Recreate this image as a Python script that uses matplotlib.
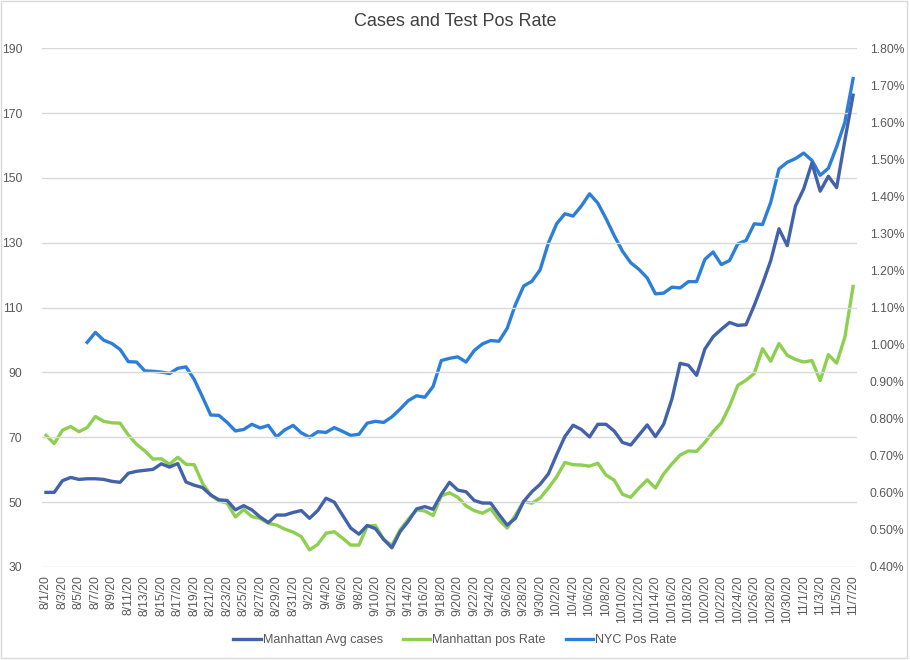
import numpy as np
import pandas as pd
import matplotlib
matplotlib.use("Agg")
import matplotlib.pyplot as plt
from matplotlib.ticker import FuncFormatter, MultipleLocator
from matplotlib.patches import Rectangle

plt.rcParams['font.family'] = ['Liberation Sans', 'DejaVu Sans']

# daily, 8/1/20 .. 11/7/20
dates = pd.date_range("2020-08-01", "2020-11-07", freq="D")
date_labels = [f"{d.month}/{d.day}/20" for d in dates]

manhattan_avg_cases = [
    53.0, 53.0, 56.6, 57.6, 57.0, 57.2, 57.2, 57.0, 56.4, 56.1,
    58.9, 59.5, 59.8, 60.1, 61.8, 60.8, 61.9, 56.2, 55.2, 54.5,
    52.2, 50.7, 50.5, 47.6, 48.9, 47.6, 45.4, 43.7, 46.0, 46.0,
    46.8, 47.4, 45.0, 47.4, 51.2, 50.0, 46.0, 42.0, 40.1, 42.8,
    41.8, 38.5, 35.9, 40.9, 44.1, 47.9, 48.6, 47.8, 52.4, 56.1,
    53.7, 53.2, 50.5, 49.7, 49.7, 46.2, 42.9, 45.0, 50.2, 53.2,
    55.5, 58.7, 64.6, 70.2, 73.7, 72.4, 70.1, 74.0, 74.0, 71.9,
    68.4, 67.6, 70.7, 73.8, 70.2, 74.0, 81.8, 92.8, 92.2, 89.1,
    97.2, 101.0, 103.3, 105.4, 104.5, 104.7, 110.7, 117.3, 124.5, 134.3,
    129.1, 141.3, 146.6, 154.6, 145.9, 150.5, 147.0, 161.6, 175.5,
]

# percent values
manhattan_pos_rate = [
    0.755, 0.733, 0.769, 0.779, 0.765, 0.776, 0.806, 0.793, 0.789, 0.788,
    0.756, 0.731, 0.713, 0.691, 0.692, 0.677, 0.696, 0.677, 0.676, 0.626,
    0.594, 0.578, 0.572, 0.535, 0.555, 0.536, 0.531, 0.518, 0.513, 0.502,
    0.494, 0.482, 0.446, 0.461, 0.491, 0.495, 0.478, 0.459, 0.459, 0.510,
    0.512, 0.474, 0.458, 0.500, 0.529, 0.554, 0.551, 0.539, 0.592, 0.600,
    0.588, 0.565, 0.552, 0.545, 0.557, 0.527, 0.505, 0.540, 0.577, 0.572,
    0.586, 0.613, 0.643, 0.682, 0.676, 0.675, 0.672, 0.680, 0.648, 0.634,
    0.596, 0.588, 0.613, 0.635, 0.613, 0.651, 0.678, 0.702, 0.713, 0.712,
    0.736, 0.765, 0.789, 0.834, 0.890, 0.904, 0.922, 0.989, 0.955, 1.003,
    0.971, 0.960, 0.953, 0.957, 0.903, 0.973, 0.950, 1.020, 1.157,
]

nyc_pos_rate = [
    np.nan, np.nan, np.nan, np.nan, np.nan, 1.006, 1.033, 1.012, 1.003, 0.987,
    0.954, 0.953, 0.929, 0.928, 0.926, 0.922, 0.936, 0.940, 0.906, 0.859,
    0.810, 0.809, 0.790, 0.767, 0.771, 0.785, 0.775, 0.782, 0.751, 0.770,
    0.782, 0.762, 0.750, 0.765, 0.763, 0.776, 0.766, 0.755, 0.758, 0.788,
    0.793, 0.790, 0.805, 0.826, 0.849, 0.862, 0.858, 0.887, 0.957, 0.963,
    0.967, 0.953, 0.984, 1.002, 1.011, 1.009, 1.044, 1.108, 1.158, 1.171,
    1.202, 1.274, 1.326, 1.353, 1.347, 1.374, 1.407, 1.382, 1.340, 1.294,
    1.252, 1.221, 1.203, 1.180, 1.137, 1.139, 1.155, 1.153, 1.170, 1.170,
    1.230, 1.250, 1.216, 1.227, 1.272, 1.281, 1.326, 1.324, 1.384, 1.474,
    1.492, 1.502, 1.517, 1.497, 1.457, 1.476, 1.534, 1.600, 1.718,
]

c_cases = "#4362AC"
c_manh = "#8DCF4F"
c_nyc = "#2C7FD8"
txt = "#595959"
grid = "#d9d9d9"

fig = plt.figure(figsize=(9.1, 6.6), dpi=100)
ax = fig.add_axes([0.046, 0.141, 0.896, 0.786])
ax2 = ax.twinx()

x = np.arange(len(dates))
l1, = ax.plot(x, manhattan_avg_cases, color=c_cases, lw=2.4, label="Manhattan Avg cases")
l2, = ax2.plot(x, np.array(manhattan_pos_rate) / 100, color=c_manh, lw=2.4, label="Manhattan pos Rate")
l3, = ax2.plot(x, np.array(nyc_pos_rate) / 100, color=c_nyc, lw=2.4, label="NYC Pos Rate")
ax.set_zorder(ax2.get_zorder() + 1)
ax.patch.set_visible(False)

ax.set_xlim(-0.5, len(dates) - 0.5)
ax.set_ylim(30, 190)
ax.set_yticks(np.arange(30, 191, 20))
ax2.set_ylim(0.004, 0.018)
ax2.yaxis.set_major_locator(MultipleLocator(0.001))
ax2.yaxis.set_major_formatter(FuncFormatter(lambda v, p: f"{v * 100:.2f}%"))

ax.set_xticks(x[::2])
ax.set_xticklabels(date_labels[::2], rotation=90)

ax.grid(axis="y", color=grid, lw=1)
ax.set_axisbelow(True)
for a in (ax, ax2):
    for s in a.spines.values():
        s.set_visible(False)
    a.tick_params(length=0, labelsize=8.7, colors=txt)
ax.tick_params(axis="y", pad=14)
ax2.tick_params(axis="y", pad=9)
ax.tick_params(axis="x", pad=6)

fig.text(0.5, 0.968, "Cases and Test Pos Rate", ha="center", va="center",
         fontsize=13, color="#404040")

fig.legend(handles=[l1, l2, l3], loc="center", bbox_to_anchor=(0.5, 1 - 640 / 660),
           ncol=3, frameon=False, fontsize=9, handlelength=2.2, handletextpad=0.15,
           columnspacing=1.6, labelcolor=txt)

fig.patches.append(Rectangle((0.001, 0.003), 0.996, 0.995, transform=fig.transFigure,
                             fill=False, edgecolor=grid, lw=1))

fig.savefig("out.png", dpi=100)
